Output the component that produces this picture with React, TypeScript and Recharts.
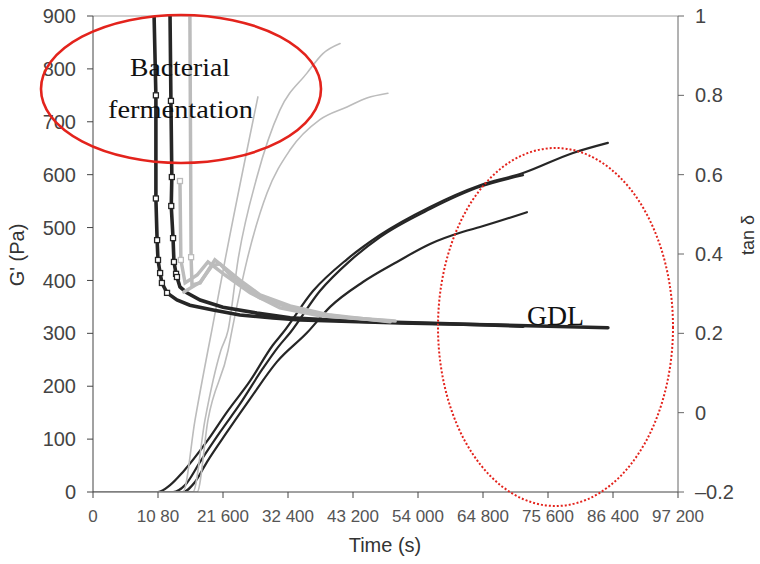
import React from 'react';
import { LineChart, Line, XAxis, YAxis, ReferenceLine } from 'recharts';

const timeTicks = [0, 10800, 21600, 32400, 43200, 54000, 64800, 75600, 86400, 97200];
const timeTickLabels = ['0', '10 80', '21 600', '32 400', '43 200', '54 000', '64 800', '75 600', '86 400', '97 200'];
const gTicks = [0, 100, 200, 300, 400, 500, 600, 700, 800, 900];
const tanTicks = [-0.2, 0, 0.2, 0.4, 0.6, 0.8, 1];

// G' (Pa) – GDL acidification (black)
const gdlTime1 = [0, 10800, 12800, 14950, 18950, 22250, 26100, 29900, 31550, 36550, 42200, 47700, 56000, 64300, 71450, 79750, 85550];
const gdlG1 = [0, 0, 13, 38, 96, 151, 210, 278, 301, 380, 440, 486, 539, 580, 603, 641, 660];
const gdlTime2 = [0, 13300, 15300, 17800, 21100, 24400, 28250, 30750, 32750, 37700, 42700, 47700, 56000, 64300, 71450];
const gdlG2 = [0, 0, 13, 57, 113, 166, 234, 274, 301, 380, 437, 482, 535, 577, 599];
const gdlTime3 = [0, 14950, 16950, 18950, 22250, 26100, 30550, 35550, 39400, 44850, 50500, 56000, 61500, 64300, 72100];
const gdlG3 = [0, 0, 19, 57, 113, 176, 246, 301, 350, 397, 435, 469, 492, 501, 529];

// G' (Pa) – bacterial fermentation (grey)
const bactTime1 = [0, 14950, 16950, 19100, 19750, 21950, 27400];
const bactG1 = [0, 0, 136, 268, 306, 439, 747];
const bactTime2 = [0, 16600, 18600, 21250, 22450, 24100, 27250, 31050, 35550, 38200, 41050];
const bactG2 = [0, 0, 136, 268, 306, 439, 596, 722, 792, 829, 848];
const bactTime3 = [0, 17300, 19100, 22450, 23100, 25600, 28900, 32750, 37700, 42200, 45500, 49000];
const bactG3 = [0, 0, 136, 268, 306, 439, 565, 647, 704, 728, 745, 754];

// tan δ – GDL (black)
const gdlTanTime1 = [10150, 10450, 10450, 10650, 10800, 11150, 11450, 12300, 13950, 16100, 19950, 24400, 29900, 34400, 51000, 67600, 85550];
const gdlTan1 = [1.0, 0.8, 0.54, 0.435, 0.385, 0.352, 0.327, 0.302, 0.284, 0.271, 0.259, 0.246, 0.239, 0.234, 0.226, 0.221, 0.214];
const gdlTanTime2 = [12800, 12950, 13100, 13000, 13300, 13450, 13800, 13950, 14450, 15600, 17800, 21600, 27250, 32750, 42700, 59300, 71450];
const gdlTan2 = [1.0, 0.786, 0.594, 0.521, 0.44, 0.38, 0.35, 0.342, 0.317, 0.302, 0.284, 0.266, 0.251, 0.239, 0.231, 0.224, 0.218];

// tan δ – bacterial fermentation (grey)
const bactTanTime1 = [16100, 16300, 16450, 17800, 20250, 24400, 27750, 32750, 39400, 49350];
const bactTan1 = [1.0, 0.392, 0.322, 0.327, 0.385, 0.334, 0.297, 0.269, 0.246, 0.229];
const bactTanTime2 = [14450, 14600, 15300, 17300, 19100, 21950, 26100, 31050, 37700, 49350];
const bactTan2 = [0.584, 0.385, 0.327, 0.347, 0.38, 0.347, 0.302, 0.264, 0.244, 0.231];
const bactTanTime3 = [15100, 17800, 19750, 21100, 23600, 27750, 34400, 42700, 50200];
const bactTan3 = [0.304, 0.329, 0.37, 0.375, 0.334, 0.289, 0.256, 0.239, 0.231];

const pts = (t: number[], v: number[]) => t.map((x, i) => ({ t: x, v: v[i] }));

const BLACK = '#262626';
const GREY = '#bcbcbc';
const SANS = '"Liberation Sans", Arial, sans-serif';
const SERIF = '"Liberation Serif", "Times New Roman", serif';

const squareDot = (from: number, to: number, color: string) => (props: any) => {
  const { cx, cy, index } = props;
  if (index < from || index >= to || cx == null || cy == null) return <g key={`d-${index}`} />;
  return (
    <rect key={`d-${index}`} x={cx - 2.5} y={cy - 2.5} width={5} height={5} fill="#fff" stroke={color} strokeWidth={1.3} />
  );
};

const fmtTan = (v: number) => (v < 0 ? `–${Math.abs(v)}` : `${v}`);

export default function App() {
  const line = (key: string, axis: string, data: any[], color: string, width: number, type: any, dot: any = false) => (
    <Line
      key={key}
      yAxisId={axis}
      data={data}
      dataKey="v"
      type={type}
      stroke={color}
      strokeWidth={width}
      dot={dot}
      activeDot={false}
      strokeLinecap="round"
      isAnimationActive={false}
    />
  );

  return (
    <div style={{ position: 'absolute', left: 0, top: 0, width: 760, height: 564, background: '#fff' }}>
      <LineChart width={760} height={564} margin={{ top: 16, right: 22, bottom: 32, left: 33 }}>
        <XAxis
          dataKey="t"
          type="number"
          domain={[0, 97200]}
          ticks={timeTicks}
          interval={0}
          allowDataOverflow
          height={40}
          tickSize={6}
          tickMargin={12}
          stroke="#444"
          tick={{ fill: '#555', fontSize: 17, fontFamily: SANS }}
          tickFormatter={(v: number) => timeTickLabels[timeTicks.indexOf(v)]}
        />
        <YAxis
          yAxisId="g"
          domain={[0, 900]}
          ticks={gTicks}
          interval={0}
          allowDataOverflow
          width={60}
          tickSize={6}
          tickMargin={11}
          stroke="#444"
          tick={{ fill: '#444', fontSize: 20, fontFamily: SANS }}
        />
        <YAxis
          yAxisId="tan"
          orientation="right"
          domain={[-0.2, 1]}
          ticks={tanTicks}
          interval={0}
          allowDataOverflow
          width={60}
          tickSize={6}
          tickMargin={11}
          stroke="#666"
          tick={{ fill: '#444', fontSize: 20, fontFamily: SANS }}
          tickFormatter={fmtTan}
        />
        <ReferenceLine yAxisId="g" y={900} stroke="#a0a0a0" strokeWidth={1} />

        {line('gG1', 'g', pts(gdlTime1, gdlG1), BLACK, 2.2, 'monotone')}
        {line('gG2', 'g', pts(gdlTime2, gdlG2), BLACK, 2.2, 'monotone')}
        {line('gG3', 'g', pts(gdlTime3, gdlG3), BLACK, 2.2, 'monotone')}
        {line('bG1', 'g', pts(bactTime1, bactG1), GREY, 1.6, 'monotone')}
        {line('bG2', 'g', pts(bactTime2, bactG2), GREY, 1.6, 'monotone')}
        {line('bG3', 'g', pts(bactTime3, bactG3), GREY, 1.6, 'monotone')}

        {line('gT1', 'tan', pts(gdlTanTime1, gdlTan1), BLACK, 3.6, 'linear', squareDot(1, 8, BLACK))}
        {line('gT2', 'tan', pts(gdlTanTime2, gdlTan2), BLACK, 3.6, 'linear', squareDot(1, 8, BLACK))}
        {line('bT1', 'tan', pts(bactTanTime1, bactTan1), GREY, 3.5, 'linear', squareDot(1, 2, GREY))}
        {line('bT2', 'tan', pts(bactTanTime2, bactTan2), GREY, 3.5, 'linear', squareDot(0, 2, GREY))}
        {line('bT3', 'tan', pts(bactTanTime3, bactTan3), GREY, 3.5, 'linear')}
      </LineChart>

      <svg width={760} height={564} style={{ position: 'absolute', left: 0, top: 0, pointerEvents: 'none' }}>
        <ellipse cx={181} cy={89} rx={140} ry={74} fill="none" stroke="#e3231c" strokeWidth={2.6} />
        <ellipse cx={555.5} cy={327} rx={117.5} ry={179} fill="none" stroke="#e3231c" strokeWidth={2} strokeDasharray="2 2" />
        <text x={130} y={76} fontFamily={SERIF} fontSize={26} fill="#111" textLength={100} lengthAdjust="spacingAndGlyphs">
          Bacterial
        </text>
        <text x={108} y={118} fontFamily={SERIF} fontSize={26} fill="#111" textLength={145} lengthAdjust="spacingAndGlyphs">
          fermentation
        </text>
        <text x={527} y={325} fontFamily={SERIF} fontSize={27} fill="#111" textLength={57} lengthAdjust="spacingAndGlyphs">
          GDL
        </text>
        <text x={385} y={552} fontFamily={SANS} fontSize={20} fill="#333" textAnchor="middle">
          Time (s)
        </text>
        <text
          x={0}
          y={0}
          transform="translate(24 255) rotate(-90)"
          fontFamily={SANS}
          fontSize={20}
          fill="#333"
          textAnchor="middle"
        >
          G' (Pa)
        </text>
        <text
          x={0}
          y={0}
          transform="translate(754 235) rotate(-90)"
          fontFamily={SANS}
          fontSize={18}
          fill="#333"
          textAnchor="middle"
        >
          tan δ
        </text>
      </svg>
    </div>
  );
}
